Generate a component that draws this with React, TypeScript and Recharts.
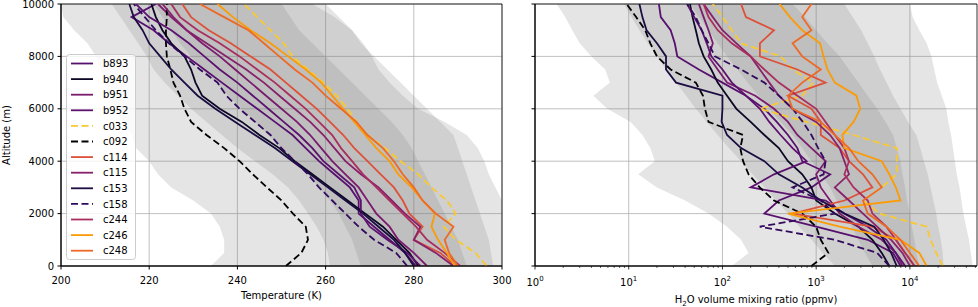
import React from "react";
import { ComposedChart, Area, Line, XAxis, YAxis, CartesianGrid, ReferenceArea } from "recharts";

// altitude levels (m), shared by every profile
const ALT = [0, 500, 1000, 1500, 2000, 2500, 3000, 3500, 4000, 4500, 5000, 5500, 6000, 6500, 7000, 7500, 8000, 8500, 9000, 9500, 10000];

// temperature climatology bands (K)
const T_OUTER_LO = [234, 237, 237, 236, 234, 230, 225, 222, 220, 217, 216, 214, 212, 211, 210, 209, 208, 206, 203, 200.5, 200];
const T_OUTER_HI = [300, 300, 300, 300, 300, 300, 298.5, 297, 296, 294.5, 292, 287, 281, 277.5, 274.5, 272, 270.5, 268.5, 266, 262, 257];
const T_MID_LO = [261, 260.5, 259.5, 258, 256, 254, 251.5, 248, 244, 240, 236.5, 233, 229.5, 226.5, 223.5, 221, 219.5, 217.5, 215.5, 213.5, 211.5];
const T_MID_HI = [298, 297.5, 297, 296, 295, 294, 293, 292, 291, 290, 289, 286, 283, 280, 277, 274, 271, 268, 266, 263, 260];
const T_IN_LO = [268, 267, 266, 264.5, 263, 261, 258.5, 256, 253, 250, 247, 244, 241, 238, 235, 232, 229.5, 227, 225, 223, 221];
const T_IN_HI = [292, 291, 290, 288.5, 287, 285.5, 284, 282.5, 281, 279.5, 277.5, 275, 272, 269, 266, 263, 260, 257, 254, 252, 250];

// temperature profiles (K)
const T_B893 = [280.5, 278, 274.5, 271, 267.5, 267.5, 265.5, 262, 258.5, 255.5, 252.5, 248.5, 244.5, 240.5, 236.5, 232.5, 228.5, 224.5, 221, 216, 221.5];
const T_B940 = [281, 279, 276, 273, 269, 265, 261, 257, 253, 249.5, 245, 241, 236, 232, 230.5, 229.5, 228, 225, 223, 221.5, 220.5];
const T_B951 = [283, 280, 276.5, 274.5, 271.5, 269.5, 267.5, 264.5, 261.5, 259, 256.5, 253.5, 250, 246.5, 243, 239.5, 236, 232, 228.5, 225, 222];
const T_B952 = [281.5, 278.5, 274, 270, 268, 268, 266.5, 263, 259.5, 257, 254, 250.5, 247, 243.5, 240, 236, 232.5, 229, 225, 220, 217];
const T_C033 = [296.5, 294, 289.5, 286.8, 289.5, 287.5, 284, 281, 277, 273.5, 269.5, 267, 265, 262.5, 259.5, 256, 252.5, 250.5, 247.5, 244.5, 241.5];
const T_C092 = [251, 254.5, 256, 255.5, 252.6, 250, 246.7, 243.5, 240.5, 237, 233, 229.5, 228, 227, 225.5, 224.8, 224, 223.8, 223.8, 224, 224];
const T_C114 = [289.5, 286, 280, 282, 279, 277.5, 275.5, 272.5, 269.5, 266.5, 264, 261, 258, 254.5, 251, 247.5, 243, 238.5, 233.5, 229.5, 227.5];
const T_C115 = [289, 285, 280, 281.5, 278, 275, 272, 268, 264.5, 262, 259.5, 256.5, 253, 249.5, 246, 242, 237.5, 233, 228.5, 225.5, 223];
const T_C153 = [280, 278, 275.5, 272, 268.5, 264.5, 260.5, 256.5, 252.5, 248.5, 244, 239.5, 235, 231, 228, 225, 222.5, 220, 218.5, 216.5, 215.5];
const T_C158 = [278.5, 276, 271, 267.5, 264.5, 261.5, 258.5, 256, 253, 250, 247.5, 244, 240.5, 237.5, 235.5, 231.5, 228, 224.5, 221.5, 219, 216.5];
const T_C244 = [290.5, 287, 283, 280.5, 277.5, 274.5, 271.5, 268.5, 266, 263.5, 261.5, 258.5, 255.5, 252, 248.5, 244.5, 240.5, 236, 231, 227, 225];
const T_C246 = [289.3, 287.5, 285.5, 284, 284.8, 282, 279.5, 276.5, 274.5, 271.5, 269, 266.5, 264, 261.5, 259, 255.5, 251.5, 247.5, 243, 239, 235.5];
const T_C248 = [290, 288, 287, 289, 285, 282, 280, 277.5, 275.5, 273, 269.5, 267, 263.5, 260, 257, 253, 249.5, 246, 242.5, 237, 231.5];

// water vapour climatology bands (ppmv)
const Q_OUTER_LO = [126, 190, 158, 112, 71, 40, 20, 12.6, 19, 17, 14, 10.5, 5.9, 4.2, 6.3, 5.6, 4, 3, 2.5, 2.1, 1.7];
const Q_OUTER_HI = [46800, 44700, 42700, 39800, 37200, 35500, 33900, 31600, 30200, 28800, 27500, 25700, 24500, 21900, 19500, 18200, 17000, 15100, 12600, 10700, 10000];
const Q_MID_LO = [1585, 1175, 891, 661, 501, 372, 282, 209, 158, 117, 89, 68, 52, 41, 32, 25, 20, 16, 13, 10.7, 8.9];
const Q_MID_HI = [22900, 22400, 21400, 20000, 19100, 17800, 16600, 15500, 14100, 12900, 11700, 9550, 7940, 6610, 5620, 4790, 4170, 3550, 3020, 2450, 2000];
const Q_IN_LO = [3980, 3310, 2820, 2400, 2000, 1660, 1410, 1120, 890, 710, 560, 417, 316, 240, 186, 145, 112, 89, 71, 56, 45];
const Q_IN_HI = [12600, 11700, 11200, 10500, 10000, 9330, 8910, 8320, 7940, 7240, 6610, 5500, 4470, 3550, 2820, 2240, 1780, 1320, 1000, 760, 560];

// water vapour profiles (ppmv)
const Q_B893 = [7940, 6610, 3550, 1000, 280, 400, 890, 1410, 710, 630, 500, 380, 280, 178, 100, 56, 33, 31, 28, 22, 21];
const Q_B940 = [6030, 5010, 3980, 2820, 1580, 1000, 890, 710, 500, 400, 280, 200, 141, 112, 89, 76, 63, 56, 52, 48, 45];
const Q_B951 = [8320, 7080, 5010, 2820, 1780, 1410, 1120, 1000, 1260, 890, 630, 500, 355, 224, 112, 89, 71, 79, 71, 63, 56];
const Q_B952 = [8910, 7080, 5620, 3550, 2000, 1260, 200, 355, 790, 560, 417, 316, 251, 178, 126, 100, 76, 68, 60, 50, 42];
const Q_C033 = [22400, 19100, 16600, 15100, 4790, 3160, 5010, 7240, 7240, 7240, 2510, 790, 251, 710, 930, 560, 417, 158, 126, 100, 79];
const Q_C092 = [890, 1350, 1120, 1000, 710, 355, 250, 190, 166, 155, 166, 71, 65, 62, 52, 28, 20, 17, 15, 12, 9.5];
const Q_C114 = [11200, 8910, 7080, 3980, 560, 2000, 3980, 3160, 2240, 1780, 1120, 1120, 890, 500, 1260, 630, 251, 251, 355, 178, 158];
const Q_C115 = [10000, 8320, 6310, 4470, 3160, 2240, 1580, 2240, 2000, 1780, 1410, 1000, 560, 400, 316, 251, 200, 141, 100, 79, 63];
const Q_C153 = [7240, 6310, 5250, 4170, 2000, 1120, 710, 400, 280, 158, 112, 98, 100, 100, 32, 25, 25, 20, 15.5, 14, 13];
const Q_C158 = [6030, 4470, 1580, 250, 1580, 1120, 560, 1200, 1260, 1050, 890, 720, 560, 400, 280, 158, 83, 71, 60, 52, 42];
const Q_C244 = [11200, 8910, 7080, 5620, 3980, 3550, 2510, 2000, 2240, 2000, 1580, 1260, 1000, 630, 400, 280, 200, 126, 89, 71, 63];
const Q_C246 = [15100, 12600, 7940, 1780, 500, 7940, 7080, 6030, 5010, 2000, 1900, 2510, 2950, 2690, 1580, 1320, 1200, 1100, 710, 525, 407];
const Q_C248 = [12600, 10000, 7940, 5620, 3550, 3160, 5010, 3980, 2820, 2240, 1580, 1120, 560, 500, 710, 1120, 710, 560, 890, 710, 890];

const FLIGHTS = ["b893", "b940", "b951", "b952", "c033", "c092", "c114", "c115", "c153", "c158", "c244", "c246", "c248"];
const COLORS: Record<string, string> = {
  b893: "#57106e",
  b940: "#0d0826",
  b951: "#7a1b6d",
  b952: "#5c126e",
  c033: "#f8c932",
  c092: "#000004",
  c114: "#dd513a",
  c115: "#87216b",
  c153: "#1b0c41",
  c158: "#320a5e",
  c244: "#a92e5e",
  c246: "#fb9b06",
  c248: "#ed6925",
};
const DASHED = ["c033", "c092", "c158"];

const TEMP: Record<string, number[]> = {
  b893: T_B893, b940: T_B940, b951: T_B951, b952: T_B952, c033: T_C033, c092: T_C092, c114: T_C114,
  c115: T_C115, c153: T_C153, c158: T_C158, c244: T_C244, c246: T_C246, c248: T_C248,
};
const H2O: Record<string, number[]> = {
  b893: Q_B893, b940: Q_B940, b951: Q_B951, b952: Q_B952, c033: Q_C033, c092: Q_C092, c114: Q_C114,
  c115: Q_C115, c153: Q_C153, c158: Q_C158, c244: Q_C244, c246: Q_C246, c248: Q_C248,
};

const tempRows = ALT.map((alt, i) => {
  const row: any = { alt, out: [T_OUTER_LO[i], T_OUTER_HI[i]], mid: [T_MID_LO[i], T_MID_HI[i]], inn: [T_IN_LO[i], T_IN_HI[i]] };
  FLIGHTS.forEach((f) => (row[f] = TEMP[f][i]));
  return row;
});
const h2oRows = ALT.map((alt, i) => {
  const row: any = { alt, out: [Q_OUTER_LO[i], Q_OUTER_HI[i]], mid: [Q_MID_LO[i], Q_MID_HI[i]], inn: [Q_IN_LO[i], Q_IN_HI[i]] };
  FLIGHTS.forEach((f) => (row[f] = H2O[f][i]));
  return row;
});

const ALT_TICKS = [0, 2000, 4000, 6000, 8000, 10000];
const T_TICKS = [200, 220, 240, 260, 280, 300];
const Q_MAJOR = [1, 10, 100, 1000, 10000];
const Q_TICKS = [
  1, 2, 3, 4, 5, 6, 7, 8, 9, 10, 20, 30, 40, 50, 60, 70, 80, 90, 100, 200, 300, 400, 500, 600, 700, 800, 900,
  1000, 2000, 3000, 4000, 5000, 6000, 7000, 8000, 9000, 10000, 20000, 30000, 40000, 50000,
];

const FONT = "'DejaVu Sans', sans-serif";
const tickStyle = { fill: "#000", fontSize: 10 };

function LogTick({ x, y, payload }: any) {
  const v = payload.value;
  const lg = Math.log10(v);
  const exp = Math.round(lg);
  const major = Math.abs(lg - exp) < 1e-6;
  return (
    <g>
      <line x1={x} x2={x} y1={y} y2={y + (major ? 3.5 : 2)} stroke="#000" strokeWidth={major ? 0.8 : 0.6} />
      {major && (
        <text x={x} y={y + 20} textAnchor="middle" fontSize={10} fill="#000">
          10<tspan dy={-5} fontSize={7}>{exp}</tspan>
        </text>
      )}
    </g>
  );
}

function bands() {
  return [
    <Area key="out" dataKey="out" type="linear" stroke="none" fill="#7f7f7f" fillOpacity={0.2} isAnimationActive={false} />,
    <Area key="mid" dataKey="mid" type="linear" stroke="none" fill="#7f7f7f" fillOpacity={0.2} isAnimationActive={false} />,
    <Area key="inn" dataKey="inn" type="linear" stroke="none" fill="#7f7f7f" fillOpacity={0.2} isAnimationActive={false} />,
  ];
}

function lines() {
  return FLIGHTS.map((f) => (
    <Line
      key={f}
      dataKey={f}
      type="linear"
      stroke={COLORS[f]}
      strokeWidth={1.8}
      strokeDasharray={DASHED.includes(f) ? "7 3.5" : undefined}
      dot={false}
      isAnimationActive={false}
    />
  ));
}

function LegendBox() {
  return (
    <svg width={72} height={208} style={{ position: "absolute", left: 66, top: 54 }}>
      <rect x={0.5} y={0.5} width={69} height={205} rx={3} fill="#fff" fillOpacity={0.8} stroke="#cccccc" />
      {FLIGHTS.map((f, i) => {
        const cy = 9.5 + i * 15.6;
        return (
          <g key={f}>
            <line x1={5} x2={27} y1={cy} y2={cy} stroke={COLORS[f]} strokeWidth={1.8} strokeDasharray={DASHED.includes(f) ? "7 3.5" : undefined} />
            <text x={37} y={cy + 3.6} fontSize={10} fill="#000">{f}</text>
          </g>
        );
      })}
    </svg>
  );
}

export default function App() {
  return (
    <div style={{ position: "absolute", left: 0, top: 0, width: 978, height: 307, background: "#fff", fontFamily: FONT }}>
      <div style={{ position: "absolute", left: 0, top: 0 }}>
        <ComposedChart width={522} height={307} layout="vertical" data={tempRows} margin={{ top: 4, right: 20, bottom: 11, left: 0 }}>
          <CartesianGrid stroke="#b0b0b0" strokeWidth={0.8} />
          <XAxis
            type="number"
            domain={[200, 300]}
            ticks={T_TICKS}
            allowDataOverflow
            interval={0}
            height={30}
            tick={tickStyle}
            tickSize={3.5}
            tickMargin={7.4}
            axisLine={{ stroke: "#000" }}
            tickLine={{ stroke: "#000" }}
            label={{ value: "Temperature (K)", position: "insideBottom", offset: -3, fontSize: 10, fill: "#000" }}
          />
          <YAxis
            type="number"
            dataKey="alt"
            domain={[0, 10000]}
            ticks={ALT_TICKS}
            allowDataOverflow
            reversed
            interval={0}
            width={61}
            tick={tickStyle}
            tickSize={3.5}
            tickMargin={3.5}
            axisLine={{ stroke: "#000" }}
            tickLine={{ stroke: "#000" }}
            label={{ value: "Altitude (m)", angle: -90, position: "insideLeft", offset: 6, fontSize: 10, fill: "#000", style: { textAnchor: "middle" } }}
          />
          {bands()}
          {lines()}
          <ReferenceArea x1={200} x2={300} y1={0} y2={10000} fill="none" stroke="#000" strokeWidth={0.8} ifOverflow="visible" />
        </ComposedChart>
      </div>
      <div style={{ position: "absolute", left: 520, top: 0 }}>
        <ComposedChart width={458} height={307} layout="vertical" data={h2oRows} margin={{ top: 4, right: 1, bottom: 11, left: 0 }}>
          <CartesianGrid stroke="#b0b0b0" strokeWidth={0.8} verticalValues={Q_MAJOR} />
          <XAxis
            type="number"
            scale="log"
            domain={[1, 52000]}
            ticks={Q_TICKS}
            allowDataOverflow
            interval={0}
            height={30}
            tick={<LogTick />}
            tickSize={0}
            tickMargin={0}
            tickLine={false}
            axisLine={{ stroke: "#000" }}
          />
          <YAxis
            type="number"
            dataKey="alt"
            domain={[0, 10000]}
            ticks={ALT_TICKS}
            allowDataOverflow
            reversed
            interval={0}
            width={15}
            tick={tickStyle}
            tickFormatter={() => ""}
            tickSize={3.5}
            axisLine={{ stroke: "#000" }}
            tickLine={{ stroke: "#000" }}
          />
          {bands()}
          {lines()}
          <ReferenceArea x1={1} x2={52000} y1={0} y2={10000} fill="none" stroke="#000" strokeWidth={0.8} ifOverflow="visible" />
        </ComposedChart>
      </div>
      <LegendBox />
      <svg width={978} height={307} style={{ position: "absolute", left: 0, top: 0, pointerEvents: "none" }}>
        <text x={756} y={303} textAnchor="middle" fontSize={10} fill="#000">
          H<tspan dy={3} fontSize={7}>2</tspan>
          <tspan dy={-3}>O volume mixing ratio (ppmv)</tspan>
        </text>
      </svg>
    </div>
  );
}
